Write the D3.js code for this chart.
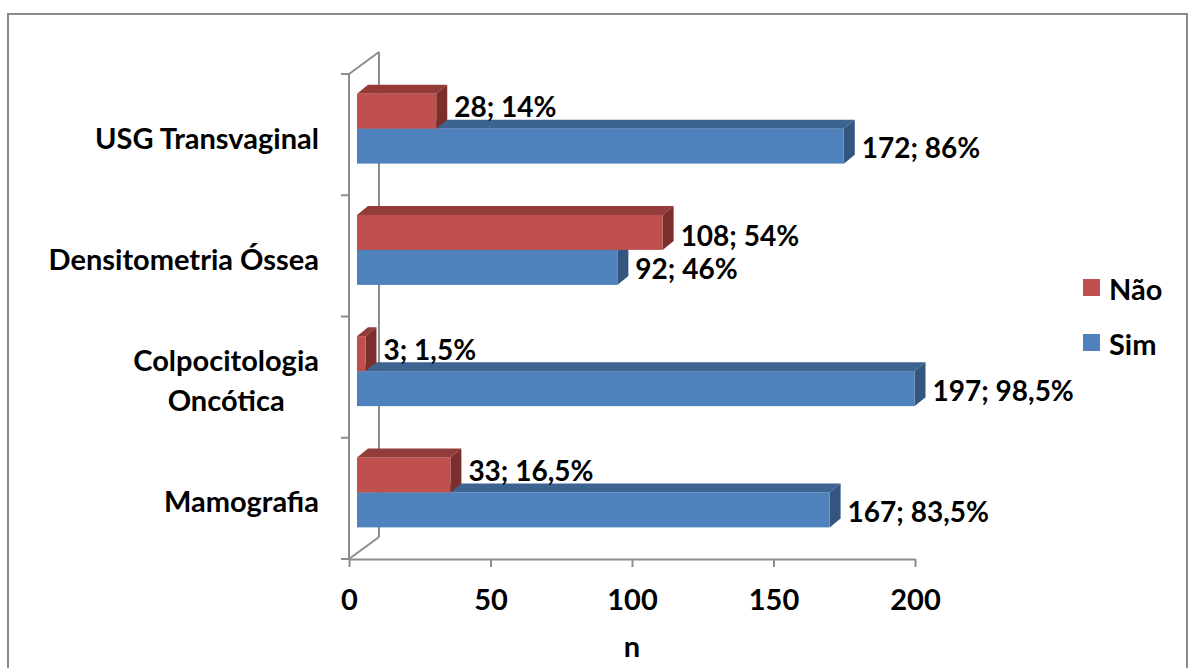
<!DOCTYPE html>
<html>
<head>
<meta charset="utf-8">
<script src="https://cdn.jsdelivr.net/npm/d3@7"></script>
<style>
  body { margin: 0; background: #fff; }
  text { font-family: Lato, "Open Sans", sans-serif; font-weight: bold; fill: #000; }
</style>
</head>
<body>
<svg id="chart" width="1191" height="668"></svg>
<script>
// chart data
const categories = ["USG Transvaginal", "Densitometria Óssea", "Colpocitologia Oncótica", "Mamografia"];
const catLines = [["USG Transvaginal"], ["Densitometria Óssea"], ["Colpocitologia", "Oncótica"], ["Mamografia"]];
const naoValues = [28, 108, 3, 33];
const simValues = [172, 92, 197, 167];
const total = 200;
const xTicks = [0, 50, 100, 150, 200];
const seriesNames = ["Não", "Sim"];

function drawChart(){

  const svg = d3.select('#chart');
  const fontSize = 29;
  const labSize = 28;

  // front plane of the plot and depth of the wall / bars
  const left = 349, top = 74, bottom = 559, plotW = 566;
  const wallDx = 30, wallDy = -22;
  const barOffX = 8, barOffY = -6;
  const depthX = 11, depthY = -9;
  const barH = 35;

  const x = d3.scaleLinear().domain([0, 200]).range([0, plotW]);
  const y = d3.scaleBand().domain(categories).range([top, bottom]);

  const cols = {
    "Não": {front: '#c0504d', top: '#923b39', side: '#7c2e2c'},
    "Sim": {front: '#4f81bd', top: '#3d6391', side: '#34557f'}
  };
  const axisCol = '#8c8c8c';

  // outer frame
  svg.append('rect')
    .attr('x', 8).attr('y', 14)
    .attr('width', 1179).attr('height', 680)
    .style('fill', 'none')
    .style('stroke', '#8a8a8a')
    .style('stroke-width', 2);

  // walls
  const wallGrp = svg.append('g').attr('class', 'walls')
    .style('stroke', axisCol).style('stroke-width', 2).style('fill', 'none');

  wallGrp.append('line')
    .attr('x1', left + wallDx).attr('y1', top + wallDy)
    .attr('x2', left + wallDx).attr('y2', bottom + wallDy);
  wallGrp.append('line')
    .attr('x1', left).attr('y1', top)
    .attr('x2', left + wallDx).attr('y2', top + wallDy);
  wallGrp.append('line')
    .attr('x1', left).attr('y1', bottom)
    .attr('x2', left + wallDx).attr('y2', bottom + wallDy);
  wallGrp.append('line')
    .attr('x1', left).attr('y1', top)
    .attr('x2', left).attr('y2', bottom);

  // category boundary ticks
  const bounds = d3.range(categories.length + 1).map(i => top + i * y.step());
  wallGrp.selectAll('line.ytick')
    .data(bounds)
    .enter()
    .append('line')
    .attr('class', 'ytick')
    .attr('x1', left - 8).attr('x2', left)
    .attr('y1', d => d).attr('y2', d => d);

  // x axis
  const xAxis = svg.append('g')
    .attr('transform', `translate(${left},${bottom})`)
    .call(d3.axisBottom(x).tickValues(xTicks).tickSize(8).tickPadding(22).tickSizeOuter(0));
  xAxis.select('.domain').style('stroke', axisCol).style('stroke-width', 2);
  xAxis.selectAll('.tick line').style('stroke', axisCol).style('stroke-width', 2);
  xAxis.selectAll('.tick text')
    .style('font-family', 'Lato, sans-serif')
    .style('font-weight', 'bold')
    .style('font-size', fontSize + 'px')
    .style('fill', '#000');

  // axis title
  svg.append('text')
    .attr('x', 632).attr('y', 657)
    .attr('text-anchor', 'middle')
    .style('font-size', fontSize + 'px')
    .text('n');

  // category labels
  const catGrp = svg.append('g').attr('class', 'cats');
  catLines.forEach((lines, i) => {
    const cy = y(categories[i]) + y.bandwidth() / 2 + 2;
    const t = catGrp.append('text')
      .style('font-size', fontSize + 'px')
      .attr('dominant-baseline', 'central');
    lines.forEach((ln, j) => {
      t.append('tspan')
        .attr('y', cy + (j - (lines.length - 1) / 2) * 40)
        .text(ln);
    });
    // right align the block, centre the lines inside it
    const spans = t.selectAll('tspan').nodes();
    const widest = d3.max(spans, s => s.getComputedTextLength());
    t.attr('text-anchor', 'middle');
    t.selectAll('tspan').attr('x', 319 - widest / 2);
  });

  // bars
  const bx0 = left + barOffX;
  const barGrp = svg.append('g').attr('class', 'bars');
  const fmt = v => d3.format('.1~f')(v / total * 100).replace('.', ',') + '%';

  function drawBar(val, y0, c){
    const x0 = bx0, x1 = bx0 + x(val), y1 = y0 + barH;
    const g = barGrp.append('g');
    g.append('polygon')
      .attr('points', [[x0, y0], [x1, y0], [x1 + depthX, y0 + depthY], [x0 + depthX, y0 + depthY]].join(' '))
      .style('fill', c.top);
    g.append('polygon')
      .attr('points', [[x1, y0], [x1, y1], [x1 + depthX, y1 + depthY], [x1 + depthX, y0 + depthY]].join(' '))
      .style('fill', c.side);
    g.append('rect')
      .attr('x', x0).attr('y', y0)
      .attr('width', x(val)).attr('height', barH)
      .style('fill', c.front);
  }

  categories.forEach((cat, i) => {
    const mid = y(cat) + y.bandwidth() / 2 + barOffY;
    const naoY = mid - barH;
    const simY = mid;
    drawBar(simValues[i], simY, cols["Sim"]);
    drawBar(naoValues[i], naoY, cols["Não"]);

    const naoLabY = naoValues[i] > simValues[i] ? naoY + barH / 2 + 2.5 : naoY + barH / 2 - 5;
    barGrp.append('text')
      .attr('x', bx0 + x(naoValues[i]) + depthX + 7)
      .attr('y', naoLabY)
      .attr('dominant-baseline', 'central')
      .style('font-size', labSize + 'px')
      .text(`${naoValues[i]}; ${fmt(naoValues[i])}`);
    barGrp.append('text')
      .attr('x', bx0 + x(simValues[i]) + depthX + 7)
      .attr('y', simY + barH / 2 + 1)
      .attr('dominant-baseline', 'central')
      .style('font-size', labSize + 'px')
      .text(`${simValues[i]}; ${fmt(simValues[i])}`);
  });

  // legend
  const leg = svg.append('g').attr('class', 'legend');
  seriesNames.forEach((name, i) => {
    leg.append('rect')
      .attr('x', 1083).attr('y', 279 + i * 55)
      .attr('width', 17).attr('height', 17)
      .style('fill', cols[name].front);
    leg.append('text')
      .attr('x', 1109).attr('y', 288 + i * 55)
      .attr('dominant-baseline', 'central')
      .style('font-size', fontSize + 'px')
      .text(name);
  });
}

drawChart();
</script>
</body>
</html>
